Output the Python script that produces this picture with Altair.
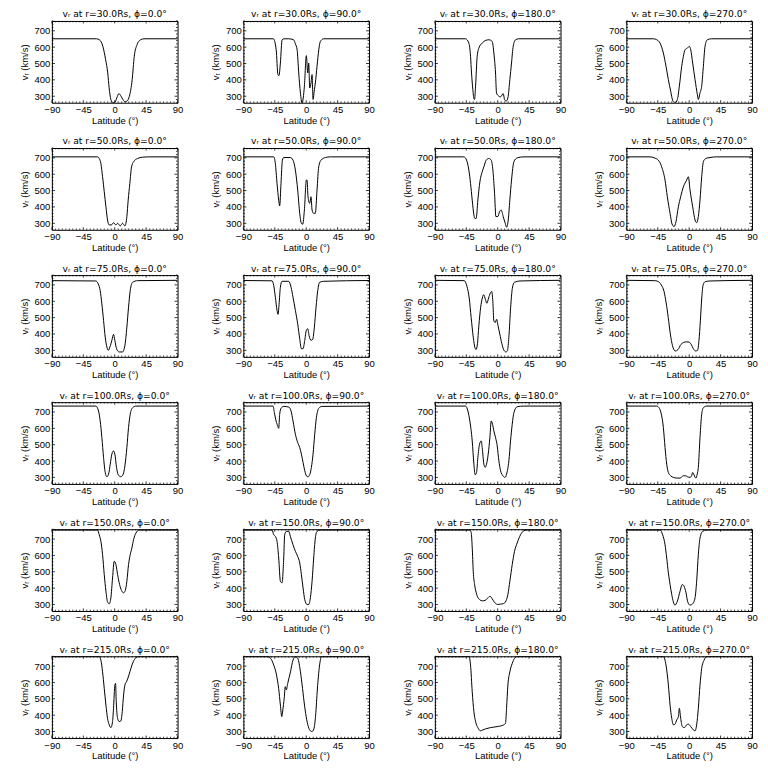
import altair as alt
import pandas as pd

# ---------------- data ----------------
LAT_R30_P0 = [-90, -26, -22, -17, -13, -10, -8, -5.5, -3, 0, 3, 6, 9, 12, 15, 18, 21, 25, 28, 32, 37, 42, 90]
V_R30_P0 = [651, 651, 645, 605, 523, 442, 351, 280, 262, 262, 290, 316, 300, 278, 266, 272, 300, 401, 544, 615, 645, 651, 651]

LAT_R30_P90 = [-90, -47, -43, -40.5, -39, -37, -34.5, -32, -25, -18, -15.5, -13, -10.7, -8.3, -6, -2.6, 0.2, 2.2, 3.6, 5, 6.9, 8.4, 9.8, 11.7, 13.1, 15.5, 18, 20.3, 25, 90]
V_R30_P90 = [651, 651, 584, 432, 426, 503, 645, 651, 651, 645, 620, 584, 442, 320, 259, 361, 548, 442, 503, 350, 381, 432, 280, 340, 381, 483, 584, 635, 651, 651]

LAT_R30_P180 = [-90, -46, -41.3, -38.9, -37.5, -35.6, -34.1, -33.2, -31.7, -29.4, -27, -22.2, -17.4, -12.6, -7.9, -5.5, -3.1, -1.7, 1.7, 4.1, 7.9, 9.8, 12.2, 14.6, 17.4, 19.8, 22.2, 25.6, 30.3, 90]
V_R30_P180 = [651, 651, 625, 544, 442, 341, 284, 280, 361, 544, 594, 625, 641, 645, 635, 564, 442, 320, 300, 296, 316, 280, 270, 290, 401, 503, 605, 645, 651, 651]

LAT_R30_P270 = [-90, -51, -46.5, -41.8, -37, -33.2, -29.8, -26.5, -23.6, -20.3, -16.9, -14.1, -10.7, -8.3, -6, -2.6, 0.2, 2.2, 5, 8.4, 11.7, 13.1, 15.5, 17.9, 20.3, 22.7, 26, 32, 90]
V_R30_P270 = [651, 651, 645, 625, 564, 483, 401, 330, 274, 259, 280, 361, 483, 544, 584, 594, 605, 584, 503, 401, 310, 280, 320, 361, 483, 605, 645, 651, 651]

LAT_R50_P0 = [-90, -24.6, -22.2, -19.8, -17.4, -15, -12.6, -10.3, -7.9, -4.6, -1.7, 1.7, 4.1, 7.9, 11.2, 14.6, 17.4, 19.3, 21.7, 24.1, 27, 32.7, 40, 47, 90]
V_R50_P0 = [706, 706, 696, 665, 584, 493, 401, 320, 290, 290, 304, 290, 300, 284, 300, 284, 341, 442, 544, 645, 676, 696, 704, 706, 706]

LAT_R50_P90 = [-90, -46.5, -44.2, -41.8, -39.4, -38, -36.1, -34.1, -32.2, -22.7, -18.9, -15.5, -12.2, -9.3, -6.9, -5, -2.6, 0.2, 1.2, 2.6, 5, 6.9, 8.4, 10.7, 13.1, 15.5, 17.9, 21.3, 27.5, 34.6, 90]
V_R50_P90 = [706, 706, 665, 544, 442, 406, 544, 686, 702, 702, 686, 625, 503, 361, 300, 294, 381, 564, 564, 462, 422, 462, 381, 361, 361, 503, 645, 686, 702, 706, 706]

LAT_R50_P180 = [-90, -48.5, -44.6, -41.3, -38.9, -36.5, -34.1, -32.7, -30.8, -28.4, -25.5, -22.2, -19.8, -16.5, -12.6, -9.3, -6.9, -4.5, -2.6, 0.2, 2.6, 5, 7.9, 10.8, 12.7, 15.1, 17.4, 19.8, 23.2, 28, 37.5, 90]
V_R50_P180 = [706, 706, 686, 625, 544, 442, 351, 330, 330, 442, 554, 615, 645, 686, 696, 686, 625, 483, 341, 341, 371, 381, 341, 300, 276, 320, 442, 564, 676, 700, 706, 706]

LAT_R50_P270 = [-90, -56, -48.9, -44.2, -39.4, -34.6, -31.3, -27.4, -24.6, -21.7, -18.9, -15.5, -12.2, -8.3, -3.6, -1.2, 1.2, 5, 8.4, 10.8, 13.1, 15.5, 17.9, 20.3, 23.6, 29.9, 39.4, 90]
V_R50_P270 = [706, 706, 698, 686, 645, 564, 462, 361, 296, 280, 310, 401, 462, 523, 564, 584, 503, 401, 320, 304, 341, 442, 584, 676, 696, 702, 706, 706]

LAT_R75_P0 = [-90, -27, -23.6, -20.8, -18.4, -16, -13.6, -11.2, -9.3, -6.9, -4.1, -1.7, 0.2, 2.6, 6.5, 11.2, 14.6, 17.4, 19.8, 22.2, 25.6, 32.7, 90]
V_R75_P0 = [726, 724, 706, 665, 584, 483, 381, 320, 300, 320, 361, 397, 361, 310, 290, 290, 330, 442, 564, 665, 716, 726, 728]

LAT_R75_P90 = [-90, -48.9, -46.5, -44.2, -41.8, -40.3, -38.9, -37, -34.6, -25, -21.7, -18.9, -15.5, -12.2, -9.3, -6.9, -4.5, -2.1, 0.2, 2.2, 4.1, 6.9, 9.3, 11.7, 14.1, 16.5, 19.3, 25, 90]
V_R75_P90 = [727, 725, 696, 625, 545, 520, 580, 686, 722, 722, 686, 625, 544, 462, 371, 310, 310, 361, 422, 432, 391, 361, 367, 442, 564, 665, 716, 722, 727]

LAT_R75_P180 = [-90, -48, -44, -40.8, -38, -35, -32.5, -31, -29, -27, -24.5, -22, -20, -17.5, -15.5, -13, -10.5, -8.5, -7, -5.5, -3.5, -1.5, 0.5, 3, 6, 9, 12, 14, 16, 18.5, 21, 24, 32, 90]
V_R75_P180 = [728, 726, 690, 620, 500, 380, 315, 305, 340, 450, 560, 620, 640, 610, 588, 620, 650, 660, 600, 480, 470, 490, 450, 400, 340, 300, 290, 300, 380, 560, 680, 716, 724, 728]

LAT_R75_P270 = [-90, -50, -45, -40, -36, -33, -30, -27, -24, -20, -16, -12, -8, -4, 0, 3, 6, 9, 12, 14, 16, 18, 20, 23, 30, 90]
V_R75_P270 = [728, 726, 722, 700, 660, 590, 500, 400, 330, 296, 305, 335, 348, 352, 350, 335, 310, 296, 300, 360, 480, 620, 700, 720, 724, 728]

LAT_R100_P0 = [-90, -27, -23.2, -20.8, -18.4, -16, -13.6, -11.2, -8.8, -6.4, -4.1, -1.7, 0.2, 2.6, 5, 8.8, 12.2, 14.6, 17.4, 19.8, 22.2, 25.6, 30.3, 90]
V_R100_P0 = [736, 736, 706, 645, 544, 422, 330, 304, 320, 381, 442, 462, 442, 361, 316, 304, 320, 371, 483, 605, 686, 726, 736, 736]

LAT_R100_P90 = [-90, -47.5, -45.6, -43.2, -40.8, -39.4, -38, -36.1, -32.2, -25, -21.7, -18.9, -15.5, -12.2, -9.3, -6.9, -4.5, -2.1, 0.2, 2.6, 5, 7.4, 9.8, 12.2, 14.6, 17.9, 22.7, 90]
V_R100_P90 = [736, 736, 696, 645, 615, 600, 686, 722, 734, 730, 706, 645, 564, 513, 483, 442, 391, 341, 310, 304, 316, 361, 442, 564, 665, 722, 734, 736]

LAT_R100_P180 = [-90, -46, -42.7, -39.9, -36.5, -34.1, -32.2, -30.3, -28.4, -26, -23.6, -22.2, -19.8, -17.9, -16, -13.6, -11.2, -9.3, -7.4, -5.5, -3.1, -0.7, 1.7, 4.1, 7.4, 10.3, 12.7, 16, 18.4, 20.8, 23.2, 28, 37.5, 90]
V_R100_P180 = [736, 736, 706, 645, 523, 381, 316, 330, 422, 503, 523, 483, 381, 361, 381, 442, 544, 645, 625, 584, 544, 493, 401, 341, 310, 300, 320, 401, 523, 625, 696, 732, 736, 736]

LAT_R100_P270 = [-90, -46.5, -42.7, -39.4, -37, -34.6, -32.2, -29.8, -26.5, -22.7, -17.9, -13, -8.3, -5, -2.6, 1.2, 3.5, 5, 6.9, 8.5, 9.8, 11.5, 13.1, 15.5, 17.9, 20.3, 25, 90]
V_R100_P270 = [736, 736, 722, 676, 605, 483, 381, 330, 310, 300, 296, 296, 310, 310, 304, 300, 310, 330, 316, 300, 296, 320, 361, 544, 686, 726, 736, 736]

LAT_R150_P0 = [-90, -24.6, -22.2, -19.8, -17.4, -15, -12.6, -10.3, -7.9, -5.5, -3.1, -0.7, 1.7, 4.1, 7, 9.8, 12.7, 15.1, 17.4, 19.8, 22.2, 24.6, 27, 30.3, 35.1, 90]
V_R150_P0 = [755, 755, 726, 686, 605, 483, 381, 316, 304, 341, 462, 564, 544, 483, 422, 385, 371, 385, 442, 544, 605, 645, 696, 736, 755, 755]

LAT_R150_P90 = [-90, -48.9, -46.5, -44.2, -41.8, -39.4, -37, -34.6, -32.2, -30.8, -28.4, -25, -22.7, -18.9, -15.5, -12.2, -9.3, -6.9, -4.5, -2.1, 1.2, 3.6, 6, 8.4, 10.7, 13.1, 15.5, 20.3, 90]
V_R150_P90 = [755, 755, 726, 716, 686, 584, 442, 432, 584, 726, 747, 747, 716, 665, 625, 594, 554, 483, 401, 330, 300, 300, 341, 442, 584, 706, 747, 755, 755]

LAT_R150_P180 = [-90, -40, -38, -36.5, -35, -33, -30, -26, -22, -18, -14, -11, -8, -4, 0, 4, 8, 11, 14.6, 17.4, 20.8, 24.1, 27.9, 32.7, 37.5, 42, 90]
V_R150_P180 = [755, 755, 740, 650, 500, 420, 360, 330, 322, 325, 340, 350, 335, 310, 300, 302, 305, 315, 361, 442, 544, 625, 676, 726, 751, 755, 755]

LAT_R150_P270 = [-90, -41.8, -38, -34.6, -32.2, -29.8, -27.4, -25, -22.7, -20.3, -16.9, -13.1, -9.8, -7.4, -4.5, -2.1, 1.2, 5, 8.4, 10.7, 13.1, 15.5, 19.3, 25, 90]
V_R150_P270 = [755, 755, 726, 665, 584, 493, 422, 361, 316, 296, 320, 381, 422, 412, 371, 316, 296, 304, 341, 442, 605, 706, 747, 755, 755]

LAT_R215_P0 = [-90, -22.2, -19.8, -17.4, -15, -12.6, -10.3, -7.9, -5.5, -3.1, -1.7, 0.2, 1.2, 2.2, 4.1, 6.5, 8.8, 10.8, 12.7, 14.6, 17.4, 20.3, 23.2, 26.5, 30.3, 33.7, 90]
V_R215_P0 = [758, 758, 736, 665, 564, 462, 381, 341, 324, 361, 442, 584, 594, 483, 381, 361, 365, 422, 523, 584, 609, 645, 686, 726, 751, 758, 758]

LAT_R215_P90 = [-90, -56, -51, -46.5, -42.5, -39.5, -37, -35, -33.5, -31.5, -30, -28.5, -26.5, -22.5, -19, -15.5, -12, -9, -6, -3, 0, 3, 6, 8.5, 11, 13.5, 16, 19, 22, 90]
V_R215_P90 = [758, 758, 747, 706, 645, 564, 462, 391, 432, 503, 574, 554, 594, 665, 736, 757, 747, 686, 590, 480, 390, 330, 304, 300, 316, 400, 560, 700, 758, 758]

LAT_R215_P180 = [-90, -41.3, -38.9, -36.5, -34.1, -31.7, -28.4, -24.6, -21.2, -17.4, -10.3, -0.7, 8.8, 11.2, 12.7, 14.6, 17.4, 20.8, 24.1, 28, 90]
V_R215_P180 = [758, 758, 706, 544, 422, 361, 324, 304, 310, 316, 324, 330, 341, 351, 442, 584, 665, 716, 747, 758, 758]

LAT_R215_P270 = [-90, -37, -33.2, -29.8, -27.4, -25, -22.7, -20.3, -17.9, -15.5, -14.1, -12.2, -9.8, -6.9, -3.6, -1.2, 2.2, 6, 8.4, 10.7, 13.1, 15.5, 17.9, 21.3, 25, 90]
V_R215_P270 = [758, 758, 706, 584, 462, 381, 341, 345, 371, 391, 442, 381, 330, 324, 341, 345, 330, 310, 304, 341, 442, 584, 686, 736, 758, 758]

RADII = ["30.0", "50.0", "75.0", "100.0", "150.0", "215.0"]
PHIS = ["0.0", "90.0", "180.0", "270.0"]
SERIES = [
    [(LAT_R30_P0, V_R30_P0), (LAT_R30_P90, V_R30_P90), (LAT_R30_P180, V_R30_P180), (LAT_R30_P270, V_R30_P270)],
    [(LAT_R50_P0, V_R50_P0), (LAT_R50_P90, V_R50_P90), (LAT_R50_P180, V_R50_P180), (LAT_R50_P270, V_R50_P270)],
    [(LAT_R75_P0, V_R75_P0), (LAT_R75_P90, V_R75_P90), (LAT_R75_P180, V_R75_P180), (LAT_R75_P270, V_R75_P270)],
    [(LAT_R100_P0, V_R100_P0), (LAT_R100_P90, V_R100_P90), (LAT_R100_P180, V_R100_P180), (LAT_R100_P270, V_R100_P270)],
    [(LAT_R150_P0, V_R150_P0), (LAT_R150_P90, V_R150_P90), (LAT_R150_P180, V_R150_P180), (LAT_R150_P270, V_R150_P270)],
    [(LAT_R215_P0, V_R215_P0), (LAT_R215_P90, V_R215_P90), (LAT_R215_P180, V_R215_P180), (LAT_R215_P270, V_R215_P270)],
]

X_MAJOR = [-90, -45, 0, 45, 90]
X_MINOR = [-85, -80, -75, -70, -65, -60, -55, -50, -40, -35, -30, -25, -20, -15, -10, -5,
           5, 10, 15, 20, 25, 30, 35, 40, 50, 55, 60, 65, 70, 75, 80, 85]
Y_MAJOR = [300, 400, 500, 600, 700]
Y_MINOR = [260, 280, 320, 340, 360, 380, 420, 440, 460, 480, 520, 540, 560, 580,
           620, 640, 660, 680, 720, 740, 760]

# ---------------- layout ----------------
W, H = 126, 82
FONT = "Liberation Sans"
TFONT = "DejaVu Sans"
XS = alt.Scale(domain=[-90, 90], nice=False, zero=False)
YS = alt.Scale(domain=[260, 760], nice=False, zero=False)


def tick_layers():
    layers = []
    for vals, ln in ((Y_MAJOR, 3), (Y_MINOR, 1.5)):
        base = alt.Chart(alt.Data(values=[{"t": t} for t in vals])).mark_rule(color="black", strokeWidth=0.8)
        layers.append(base.encode(y=alt.Y("t:Q", scale=YS, axis=None), x=alt.value(0), x2=alt.value(ln)))
        layers.append(base.encode(y=alt.Y("t:Q", scale=YS, axis=None), x=alt.value(W), x2=alt.value(W - ln)))
    for vals, ln in ((X_MAJOR, 2.5), (X_MINOR, 1.3)):
        base = alt.Chart(alt.Data(values=[{"t": t} for t in vals])).mark_rule(color="black", strokeWidth=0.8)
        layers.append(base.encode(x=alt.X("t:Q", scale=XS, axis=None), y=alt.value(H), y2=alt.value(H - ln)))
        layers.append(base.encode(x=alt.X("t:Q", scale=XS, axis=None), y=alt.value(0), y2=alt.value(ln)))
    return layers


panels = []
for i, r in enumerate(RADII):
    for j, p in enumerate(PHIS):
        lat, v = SERIES[i][j]
        df = pd.DataFrame({"lat": lat, "v": v})
        line = alt.Chart(df).mark_line(color="black", strokeWidth=1, interpolate="monotone", clip=True).encode(
            x=alt.X("lat:Q", scale=XS,
                    axis=alt.Axis(values=X_MAJOR, title="Latitude (°)", ticks=False, domain=False, grid=False,
                                  labelPadding=2, titlePadding=1, labelFlush=False)),
            y=alt.Y("v:Q", scale=YS,
                    axis=alt.Axis(values=Y_MAJOR, title="vᵣ (km/s)", ticks=False, domain=False, grid=False,
                                  labelPadding=2, titlePadding=5)),
        )
        ch = alt.layer(line, *tick_layers()).resolve_axis(x="independent", y="independent").properties(
            width=W, height=H,
            title=alt.Title(f"vᵣ at r={r}Rs, ϕ={p}°", fontSize=9.2, font=TFONT, fontWeight="normal",
                            offset=1, anchor="middle", color="black"),
        )
        panels.append(ch)

chart = alt.concat(*panels, columns=4, spacing={"row": 45.4, "column": 66}, bounds="flush").properties(
    padding={"left": 10, "top": 0, "right": 2, "bottom": 0},
    background="white",
).configure_view(stroke="black", strokeWidth=1).configure_axis(
    labelFont=FONT, labelFontSize=9.5, labelColor="black", titleFont=FONT, titleFontSize=9.5,
    titleFontWeight="normal", titleColor="black",
)

chart.save("out.html", embed_options={"renderer": "svg", "actions": False})
